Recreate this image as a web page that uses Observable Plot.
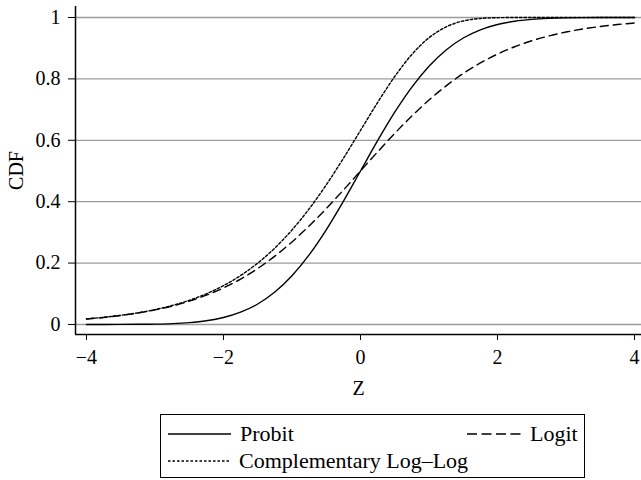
<!DOCTYPE html>
<html><head><meta charset="utf-8">
<script src="https://cdn.jsdelivr.net/npm/d3@7"></script>
<script src="https://cdn.jsdelivr.net/npm/@observablehq/plot@0.6"></script>
<style>
body{margin:0;background:#fff;font-family:"Liberation Serif","DejaVu Serif",serif;}
#wrap{position:relative;width:641px;height:480px;overflow:hidden;}
#legend{position:absolute;left:160px;top:414px;width:425px;height:64px;border:1.3px solid #000;box-sizing:border-box;font-size:22px;color:#000;}
.item{position:absolute;display:flex;align-items:center;height:24px;line-height:24px;}
.item svg{display:block;margin-right:9px;}
</style></head><body><div id="wrap"><div id="chart"></div><div id="legend"></div></div>
<script>
const z = [-4,-3.75,-3.5,-3.25,-3,-2.75,-2.5,-2.25,-2,-1.75,-1.5,-1.25,-1,-0.75,-0.5,-0.25,0,0.25,0.5,0.75,1,1.25,1.5,1.75,2,2.25,2.5,2.75,3,3.25,3.5,3.75,4];
const probit = [0.00003,0.00009,0.00023,0.00058,0.00135,0.00298,0.00621,0.01222,0.02275,0.04006,0.06681,0.10565,0.15866,0.22663,0.30854,0.40129,0.5,0.59871,0.69146,0.77337,0.84134,0.89435,0.93319,0.95994,0.97725,0.98778,0.99379,0.99702,0.99865,0.99942,0.99977,0.99991,0.99997];
const logit = [0.01799,0.02298,0.02931,0.03733,0.04743,0.06009,0.07586,0.09535,0.11920,0.14805,0.18243,0.22270,0.26894,0.32082,0.37754,0.43782,0.5,0.56218,0.62246,0.67918,0.73106,0.77730,0.81757,0.85195,0.88080,0.90465,0.92414,0.93991,0.95257,0.96267,0.97069,0.97702,0.98201];
const cloglog = [0.01815,0.02324,0.02975,0.03803,0.04857,0.06193,0.07881,0.10004,0.12658,0.15951,0.19999,0.24907,0.30780,0.37646,0.45476,0.54106,0.63212,0.72308,0.80770,0.87961,0.93401,0.96951,0.98869,0.99683,0.99938,0.99992,0.99999,1,1,1,1,1,1];
const seriesNames = ["Probit", "Logit", "Complementary Log\u2013Log"];
const yTicks = [0, 0.2, 0.4, 0.6, 0.8, 1];
const xTicks = [-4, -2, 0, 2, 4];

const styles = {
  "Probit": {dash: null},
  "Logit": {dash: "8,5"},
  "Complementary Log\u2013Log": {dash: "2.5,2"}
};
const seriesValues = [probit, logit, cloglog];
const data = [];
seriesNames.forEach((name, k) => z.forEach((v, i) => data.push({z: v, cdf: seriesValues[k][i], series: name})));

const xDom = [-4.16, 4.102];
const yDom = [-0.0326, 1.0358];
const fmt = d => d < 0 ? "\u2212" + (-d) : String(d);

const chart = Plot.plot({
  width: 641, height: 405,
  marginLeft: 75, marginRight: 0, marginTop: 6, marginBottom: 71,
  style: {fontFamily: '"Liberation Serif","DejaVu Serif",serif', fontSize: "20px", color: "#000", background: "#fff"},
  x: {domain: xDom},
  y: {domain: yDom},
  marks: [
    Plot.ruleY(yTicks, {stroke: "#9c9c9c", strokeWidth: 1.3}),
    ...seriesNames.map(name => Plot.line(data.filter(d => d.series === name), {
      x: "z", y: "cdf", stroke: "#000", strokeWidth: 1.4,
      strokeDasharray: styles[name].dash, curve: "monotone-x"
    })),
    Plot.ruleX([xDom[0]], {stroke: "#000", strokeWidth: 1.5}),
    Plot.ruleY([yDom[0]], {stroke: "#000", strokeWidth: 1.5}),
    Plot.axisX({ticks: xTicks, tickSize: 6, tickPadding: 9, tickFormat: fmt, label: "Z", labelAnchor: "center", labelArrow: false, labelOffset: 60, fontSize: 20}),
    Plot.axisY({ticks: yTicks, tickSize: 7, tickPadding: 8, tickFormat: d => String(d), label: "CDF", labelAnchor: "center", labelArrow: false, labelOffset: 67, fontSize: 20})
  ]
});
document.getElementById("chart").appendChild(chart);

// legend
const legend = document.getElementById("legend");
const items = [
  {name: seriesNames[0], left: 7, top: 7, w: 63},
  {name: seriesNames[1], left: 306, top: 7, w: 54},
  {name: seriesNames[2], left: 7, top: 34, w: 62}
];
items.forEach(it => {
  const div = document.createElement("div");
  div.className = "item";
  div.style.left = it.left + "px";
  div.style.top = it.top + "px";
  const ns = "http://www.w3.org/2000/svg";
  const svg = document.createElementNS(ns, "svg");
  svg.setAttribute("width", it.w);
  svg.setAttribute("height", 10);
  const ln = document.createElementNS(ns, "line");
  ln.setAttribute("x1", 0); ln.setAttribute("x2", it.w);
  ln.setAttribute("y1", 5); ln.setAttribute("y2", 5);
  ln.setAttribute("stroke", "#000");
  ln.setAttribute("stroke-width", 1.4);
  const dsh = it.name === seriesNames[1] ? "10,4.5" : styles[it.name].dash;
  if (dsh) ln.setAttribute("stroke-dasharray", dsh);
  svg.appendChild(ln);
  div.appendChild(svg);
  const sp = document.createElement("span");
  sp.textContent = it.name;
  div.appendChild(sp);
  legend.appendChild(div);
});
</script>
</body></html>
